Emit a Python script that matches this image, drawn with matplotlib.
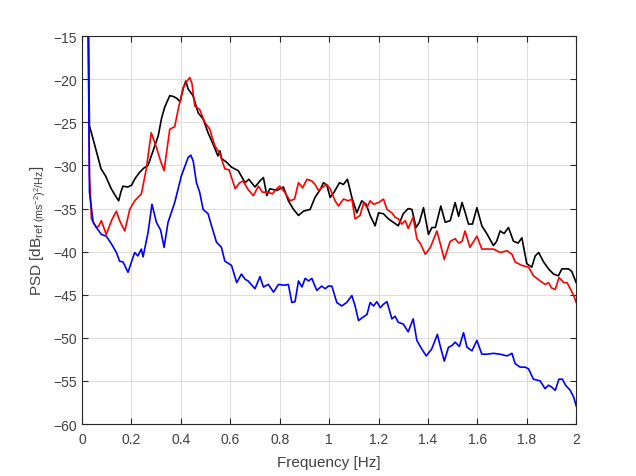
import matplotlib
matplotlib.use("Agg")
import matplotlib.pyplot as plt

plt.rcParams["font.family"] = ["Liberation Sans", "DejaVu Sans"]
plt.rcParams["mathtext.fontset"] = "custom"
plt.rcParams["mathtext.rm"] = "Liberation Sans"
plt.rcParams["mathtext.it"] = "Liberation Sans"

# values (frequency in Hz, PSD in dB)
black_f = [0.024, 0.03, 0.05, 0.077, 0.095, 0.118, 0.135, 0.148, 0.158, 0.166, 0.185, 0.2, 0.215, 0.233, 0.25,
           0.267, 0.285, 0.308, 0.322, 0.335, 0.355, 0.37, 0.383, 0.397, 0.41, 0.42, 0.429, 0.449, 0.47, 0.49,
           0.51, 0.53, 0.55, 0.558, 0.565, 0.584, 0.605, 0.632, 0.66, 0.675, 0.70, 0.72, 0.734, 0.748, 0.76,
           0.788, 0.815, 0.835, 0.856, 0.876, 0.896, 0.923, 0.943, 0.964, 0.977, 0.991, 1.004, 1.02, 1.042,
           1.058, 1.074, 1.092, 1.112, 1.132, 1.15, 1.166, 1.186, 1.20, 1.22, 1.24, 1.26, 1.28, 1.30, 1.32,
           1.335, 1.352, 1.365, 1.382, 1.402, 1.416, 1.43, 1.452, 1.47, 1.49, 1.51, 1.524, 1.538, 1.55, 1.564,
           1.58, 1.598, 1.618, 1.638, 1.665, 1.678, 1.692, 1.708, 1.726, 1.746, 1.765, 1.78, 1.80, 1.82, 1.834,
           1.848, 1.868, 1.888, 1.908, 1.928, 1.942, 1.969, 1.982, 2.0]
black_db = [-10, -25.4, -27.5, -30.4, -31.2, -32.7, -33.5, -34.1, -33.0, -32.4, -32.5, -32.3, -31.5, -30.8, -30.3,
            -30.0, -28.5, -26.6, -24.5, -23.2, -21.9, -22.0, -22.2, -22.6, -21.0, -20.2, -21.1, -21.9, -23.9, -24.6,
            -26.2, -27.5, -28.9, -28.3, -29.2, -29.6, -30.2, -30.6, -32.0, -31.6, -32.5, -31.8, -31.4, -33.5, -32.7,
            -32.9, -32.5, -34.1, -35.1, -35.8, -35.3, -35.1, -33.7, -32.8, -32.0, -32.3, -33.7, -33.1, -32.0,
            -32.2, -31.6, -33.7, -35.5, -34.1, -34.5, -35.8, -37.0, -35.5, -35.6, -36.2, -36.6, -37.0, -35.6, -35.0,
            -35.1, -37.2, -36.6, -34.9, -38.0, -37.2, -37.2, -34.7, -36.6, -36.4, -34.3, -35.9, -34.3, -35.4, -36.8,
            -36.8, -34.9, -37.0, -37.9, -39.3, -38.8, -37.6, -37.9, -37.2, -38.8, -39.0, -38.4, -41.4, -41.8, -40.5,
            -40.1, -41.2, -42.0, -42.6, -42.8, -42.0, -42.0, -42.3, -43.6]

red_f = [0.024, 0.03, 0.038, 0.058, 0.068, 0.078, 0.098, 0.119, 0.139, 0.152, 0.173, 0.193, 0.213, 0.24, 0.26,
         0.28, 0.301, 0.318, 0.332, 0.355, 0.375, 0.389, 0.409, 0.425, 0.436, 0.445, 0.456, 0.476, 0.497, 0.517,
         0.537, 0.557, 0.578, 0.595, 0.62, 0.638, 0.652, 0.67, 0.693, 0.714, 0.73, 0.754, 0.77, 0.788, 0.80,
         0.82, 0.842, 0.86, 0.876, 0.893, 0.91, 0.93, 0.943, 0.957, 0.97, 0.991, 1.004, 1.024, 1.038, 1.058,
         1.078, 1.092, 1.105, 1.125, 1.14, 1.153, 1.166, 1.18, 1.20, 1.22, 1.234, 1.254, 1.267, 1.28, 1.294,
         1.308, 1.32, 1.34, 1.355, 1.37, 1.389, 1.41, 1.436, 1.45, 1.466, 1.49, 1.51, 1.524, 1.538, 1.55, 1.57,
         1.598, 1.618, 1.638, 1.665, 1.692, 1.72, 1.74, 1.753, 1.78, 1.807, 1.827, 1.854, 1.874, 1.888, 1.9,
         1.915, 1.93, 1.95, 1.963, 1.976, 1.99, 2.0]
red_db = [-10, -31.0, -36.2, -37.2, -37.0, -36.4, -38.0, -36.4, -35.3, -36.4, -37.6, -35.1, -34.1, -33.3, -30.4,
          -26.2, -27.9, -29.5, -30.6, -25.8, -25.5, -23.5, -21.0, -20.2, -19.8, -20.5, -23.1, -23.5, -25.0, -25.8,
          -27.7, -28.6, -30.4, -30.5, -32.7, -32.0, -31.8, -32.7, -33.5, -32.4, -33.1, -33.1, -33.3, -32.7, -32.4,
          -33.1, -34.1, -33.9, -32.0, -32.6, -31.6, -31.8, -32.2, -32.9, -32.6, -32.2, -32.7, -34.1, -34.7, -33.9,
          -34.1, -33.9, -36.2, -35.8, -34.3, -34.9, -34.1, -34.5, -34.3, -33.9, -35.1, -35.5, -36.0, -36.2, -36.8,
          -36.4, -37.3, -36.0, -38.5, -39.1, -40.3, -39.5, -37.6, -39.1, -40.9, -38.8, -38.5, -39.0, -38.8, -37.6, -39.5,
          -38.2, -39.7, -39.7, -39.7, -40.1, -39.9, -40.3, -41.2, -41.6, -41.8, -42.8, -43.4, -43.8, -43.6, -44.2,
          -44.4, -43.0, -43.6, -43.6, -44.3, -45.1, -45.9]

blue_f = [0.024, 0.03, 0.045, 0.058, 0.078, 0.098, 0.119, 0.139, 0.152, 0.166, 0.186, 0.2, 0.213, 0.226, 0.24,
          0.247, 0.267, 0.283, 0.301, 0.318, 0.332, 0.348, 0.375, 0.402, 0.429, 0.44, 0.45, 0.463, 0.476, 0.49,
          0.51, 0.524, 0.544, 0.564, 0.578, 0.605, 0.626, 0.645, 0.66, 0.672, 0.70, 0.72, 0.734, 0.754, 0.775,
          0.795, 0.82, 0.835, 0.849, 0.862, 0.876, 0.89, 0.903, 0.917, 0.93, 0.95, 0.97, 0.984, 0.997, 1.011,
          1.031, 1.051, 1.071, 1.092, 1.105, 1.119, 1.132, 1.153, 1.166, 1.18, 1.193, 1.207, 1.22, 1.234, 1.254,
          1.267, 1.28, 1.30, 1.32, 1.34, 1.355, 1.375, 1.393, 1.415, 1.438, 1.45, 1.466, 1.483, 1.497, 1.51,
          1.527, 1.544, 1.558, 1.578, 1.598, 1.618, 1.638, 1.665, 1.692, 1.72, 1.74, 1.753, 1.773, 1.793, 1.807,
          1.827, 1.854, 1.874, 1.888, 1.9, 1.915, 1.93, 1.944, 1.957, 1.976, 1.99, 2.0]
blue_db = [-10, -33.1, -36.6, -37.2, -38.0, -38.2, -39.1, -40.1, -41.1, -41.2, -42.4, -41.2, -40.1, -40.5, -39.7,
           -40.6, -37.8, -34.5, -36.6, -37.5, -39.5, -36.6, -34.3, -31.2, -29.1, -28.8, -29.5, -32.0, -33.1, -35.1,
           -35.6, -37.0, -38.9, -39.5, -41.1, -41.6, -43.6, -42.6, -43.2, -43.4, -44.3, -42.9, -44.1, -43.8, -44.7,
           -43.8, -43.9, -43.8, -45.9, -45.8, -43.4, -44.1, -43.1, -43.4, -43.1, -44.5, -44.0, -44.3, -44.0, -44.0,
           -45.9, -46.3, -45.9, -45.1, -46.3, -48.0, -47.7, -47.3, -45.9, -46.3, -45.8, -46.5, -46.1, -45.8, -47.8,
           -47.5, -48.2, -48.4, -49.3, -47.8, -50.3, -51.3, -52.1, -51.3, -49.6, -51.0, -52.7, -51.1, -50.9, -50.5,
           -51.0, -49.4, -51.1, -51.5, -50.3, -51.9, -51.9, -51.8, -51.9, -52.1, -51.8, -53.0, -53.4, -53.4, -53.6,
           -54.8, -55.0, -55.9, -55.5, -55.7, -56.1, -54.8, -54.8, -55.5, -56.1, -56.9, -57.9]

x_ticks = [0, 0.2, 0.4, 0.6, 0.8, 1, 1.2, 1.4, 1.6, 1.8, 2]
x_labels = ["0", "0.2", "0.4", "0.6", "0.8", "1", "1.2", "1.4", "1.6", "1.8", "2"]
y_ticks = [-60, -55, -50, -45, -40, -35, -30, -25, -20, -15]


def main() -> None:
    text_col = "#404040"
    fig = plt.figure(figsize=(6.36, 4.77), dpi=100)
    ax = fig.add_axes([0.129, 0.109, 0.777, 0.813])

    ax.plot(black_f, black_db, color="k", linewidth=1.2)
    ax.plot(red_f, red_db, color="r", linewidth=1.2)
    ax.plot(blue_f, blue_db, color="b", linewidth=1.2)

    ax.set_xlim(0, 2)
    ax.set_ylim(-60, -15)
    ax.set_xticks(x_ticks)
    ax.set_xticklabels(x_labels)
    ax.set_yticks(y_ticks)

    ax.grid(True, color="#dcdcdc", linewidth=0.7)
    ax.set_axisbelow(True)
    ax.tick_params(direction="in", length=4, colors="#262626", labelcolor=text_col,
                   labelsize=10, top=True, right=True)
    ax.tick_params(axis="x", pad=6)
    for side in ax.spines.values():
        side.set_color("#262626")
        side.set_linewidth(0.8)

    ax.set_xlabel("Frequency [Hz]", fontsize=11, color=text_col, labelpad=6)
    ax.set_ylabel(r"PSD [dB$_{\mathrm{ref\ (ms^{-2})^{2}/Hz}}$]", fontsize=11, color=text_col)

    fig.savefig("out.png", dpi=100)
    plt.close(fig)


if __name__ == "__main__":
    main()
